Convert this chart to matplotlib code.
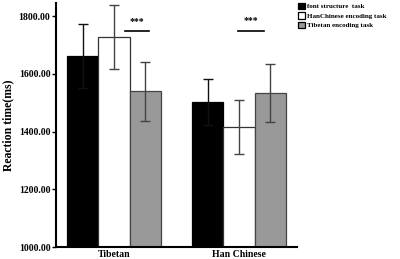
import matplotlib
matplotlib.use("Agg")
import matplotlib.pyplot as plt
import numpy as np

groups = ["Tibetan", "Han Chinese"]
series = ["font structure  task", "HanChinese encoding task", "Tibetan encoding task"]
means = {
    "font structure  task": [1662, 1503],
    "HanChinese encoding task": [1727, 1416],
    "Tibetan encoding task": [1539, 1534],
}
errors = {
    "font structure  task": [112, 80],
    "HanChinese encoding task": [110, 95],
    "Tibetan encoding task": [102, 100],
}
yticks = [1000, 1200, 1400, 1600, 1800]
sig_pairs = [(0.34, 1.11, 1747), (3.98, 4.79, 1750)]

colors = ["#000000", "#ffffff", "#999999"]
edges = ["#000000", "#333333", "#444444"]
ecolors = ["#111111", "#444444", "#444444"]

plt.rcParams['font.family'] = ['Liberation Serif', 'DejaVu Serif']
plt.rcParams['font.weight'] = 'bold'

fig = plt.figure(figsize=(4.0, 2.59), dpi=100)
ax = fig.add_axes([0.14, 0.046, 0.6025, 0.942])

centers = np.array([0, 4])
offs = [-1, 0, 1]
handles = []
for i, s in enumerate(series):
    h = ax.bar(centers + offs[i], means[s], width=1.0, bottom=0,
               color=colors[i], edgecolor=edges[i], linewidth=0.9, label=s, zorder=2)
    handles.append(h)
    ax.errorbar(centers + offs[i], means[s], yerr=errors[s], fmt='none',
                ecolor=ecolors[i], elinewidth=1.0, capsize=3.5, capthick=1.0, zorder=3)

for x0, x1, y in sig_pairs:
    ax.plot([x0, x1], [y, y], color='black', lw=1.2, zorder=4)
    ax.text((x0 + x1) / 2, y + 20, "***", ha='center', va='bottom', fontsize=7, fontweight='bold')

ax.set_ylim(1000, 1845)
ax.set_xlim(-1.85, 5.85)
ax.set_yticks(yticks)
ax.set_yticklabels([f"{v:.2f}" for v in yticks], fontsize=7, fontweight='bold')
ax.set_xticks(centers)
ax.set_xticklabels(groups, fontsize=7, fontweight='bold')
ax.tick_params(axis='x', direction='in', length=3, width=1, pad=2)
ax.tick_params(axis='y', direction='out', length=3, width=1, pad=1)
for sp in ['top', 'right']:
    ax.spines[sp].set_visible(False)
for sp in ['left', 'bottom']:
    ax.spines[sp].set_linewidth(1.5)
ax.set_ylabel("Reaction time(ms)", fontsize=8.5, fontweight='bold', labelpad=3)

leg = fig.legend(handles=handles, labels=series, loc='upper left',
                 bbox_to_anchor=(0.737, 1.0), frameon=False, fontsize=5,
                 handlelength=1.0, handleheight=1.0, handletextpad=0.4,
                 labelspacing=0.45, borderaxespad=0.15, borderpad=0.25)
for h in leg.legend_handles:
    h.set_edgecolor('black')

fig.savefig("out.png", dpi=100)
